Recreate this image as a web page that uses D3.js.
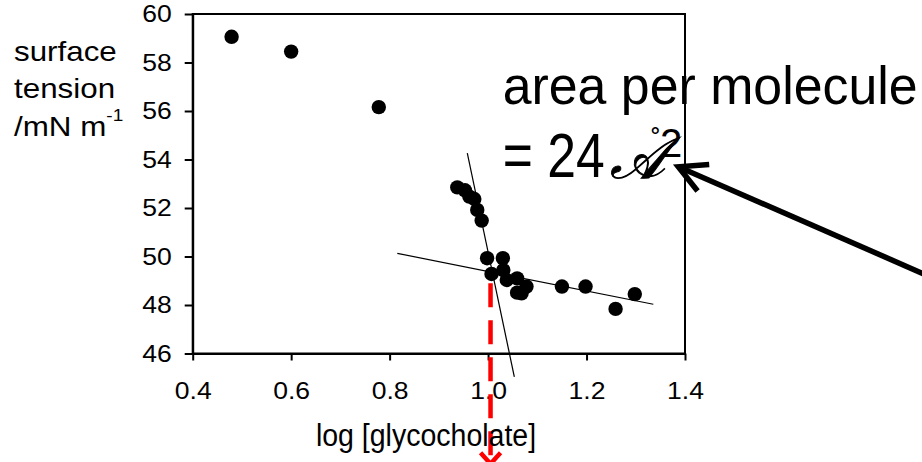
<!DOCTYPE html>
<html>
<head>
<meta charset="utf-8">
<script src="https://cdn.jsdelivr.net/npm/d3@7"></script>
<style>
  html, body { margin: 0; padding: 0; background: #fff; }
  svg { display: block; }
  text { font-family: "Liberation Sans", Arial, sans-serif; fill: #000; }
</style>
</head>
<body>
<svg id="chart" width="922" height="462"></svg>
<script>
// Surface tension of glycocholate solutions vs. log concentration
const logConc = [0.479, 0.600, 0.778, 0.9375, 0.953, 0.962, 0.972, 0.978, 0.987,
                 0.998, 1.030, 1.007, 1.031, 1.038, 1.059, 1.078, 1.059, 1.068,
                 1.150, 1.198, 1.259, 1.298];
const tension = [59.06, 58.45, 56.16, 52.85, 52.73, 52.47, 52.37, 51.92, 51.48,
                 49.93, 49.93, 49.28, 49.44, 49.03, 49.10, 48.76, 48.51, 48.48,
                 48.76, 48.76, 47.84, 48.45];

// Hand-drawn trend lines (endpoints in data units)
const steepLine = [[0.9578, 54.26], [1.0533, 45.04]];
const flatLine  = [[0.8156, 50.13], [1.3356, 48.03]];

// Break point (CMC) marker
const cmcLog = 1.005;
const cmcTop = 48.9;
const cmcBottom = 41.45;

const xTickValues = [0.4, 0.6, 0.8, 1.0, 1.2, 1.4];
const yTickValues = [46, 48, 50, 52, 54, 56, 58, 60];

const xTitle = "log [glycocholate]";
const yTitleLines = ["surface", "tension", "/mN m"];
const areaLine1 = "area per molecule";
const areaLine2 = "= 24 ";
const areaUnit = "\u{1D49C}";

const svg = d3.select("#chart");
svg.append("rect").attr("width", 922).attr("height", 462).attr("fill", "#fff");

const x = d3.scaleLinear().domain([0.4, 1.4]).range([192.7, 685]);
const y = d3.scaleLinear().domain([46, 60]).range([353.5, 14]);

// horizontally stretch a text element about its own x anchor
function stretch(sel, s) {
  sel.each(function () {
    const t = d3.select(this);
    const tx = +t.attr("x") || 0;
    t.attr("x", 0).attr("transform", `translate(${tx},0) scale(${s},1)`);
  });
}

// plot frame
svg.append("rect")
  .attr("x", x(0.4)).attr("y", y(60))
  .attr("width", x(1.4) - x(0.4)).attr("height", y(46) - y(60))
  .attr("fill", "none").attr("stroke", "#000").attr("stroke-width", 2);

// axes
const yAxis = svg.append("g").attr("transform", `translate(${x(0.4)},0)`)
  .call(d3.axisLeft(y).tickValues(yTickValues).tickSize(8).tickSizeOuter(0)
    .tickPadding(13).tickFormat(d3.format("d")));
const xAxis = svg.append("g").attr("transform", `translate(0,${y(46)})`)
  .call(d3.axisBottom(x).tickValues(xTickValues).tickSize(7).tickSizeOuter(0)
    .tickPadding(22).tickFormat(d3.format(".1f")));
[yAxis, xAxis].forEach(a => {
  a.select(".domain").attr("stroke-width", 2);
  a.selectAll(".tick line").attr("stroke-width", 2);
  a.selectAll(".tick text")
    .attr("font-family", "\"Liberation Sans\", Arial, sans-serif")
    .attr("font-size", 23.5).attr("fill", "#000");
});
stretch(yAxis.selectAll(".tick text"), 1.13);
xAxis.selectAll(".tick text").attr("x", 0);
stretch(xAxis.selectAll(".tick text"), 1.13);

// trend lines
const line = d3.line().x(d => x(d[0])).y(d => y(d[1]));
[steepLine, flatLine].forEach(l => {
  svg.append("path").attr("d", line(l))
    .attr("fill", "none").attr("stroke", "#000").attr("stroke-width", 1.2);
});

// data points
svg.append("g").selectAll("circle")
  .data(logConc.map((v, i) => [v, tension[i]]))
  .join("circle")
  .attr("cx", d => x(d[0])).attr("cy", d => y(d[1])).attr("r", 7.2)
  .attr("fill", "#000");

// red dashed drop line at the break point
svg.append("line")
  .attr("x1", x(cmcLog)).attr("x2", x(cmcLog))
  .attr("y1", y(cmcTop)).attr("y2", y(cmcBottom))
  .attr("stroke", "#f00").attr("stroke-width", 4.5)
  .attr("stroke-dasharray", "24 13");
svg.append("path")
  .attr("d", `M${x(cmcLog) - 10},${y(cmcBottom) - 11} L${x(cmcLog)},${y(cmcBottom)} L${x(cmcLog) + 10},${y(cmcBottom) - 11}`)
  .attr("fill", "none").attr("stroke", "#f00").attr("stroke-width", 4.5);

// axis titles
const xt = svg.append("text").attr("x", 426).attr("y", 446).attr("text-anchor", "middle")
  .attr("font-size", 31).text(xTitle);
stretch(xt, 0.92);

const yt = svg.append("g");
yTitleLines.forEach((s, i) => {
  const t = yt.append("text").attr("x", 14).attr("y", 61 + i * 37.5)
    .attr("font-size", 28).text(s);
  if (i === 2) t.append("tspan").attr("dy", -15).attr("font-size", 17).text("-1");
});
stretch(yt.selectAll("text"), 1.12);

// annotation: area per molecule
const a1 = svg.append("text").attr("x", 502.7).attr("y", 104)
  .attr("font-size", 54).text(areaLine1);
stretch(a1, 0.96);
const a2 = svg.append("text").attr("x", 502.7).attr("y", 177)
  .attr("font-size", 63).text(areaLine2);
stretch(a2, 0.82);
// script angstrom with its ring and the squared exponent, as one text
const unit = svg.append("text").attr("x", 610).attr("y", 178);
unit.append("tspan")
  .attr("font-size", 58).attr("font-style", "italic")
  .attr("stroke", "#000").attr("stroke-width", 1)
  .attr("font-family", "\"DejaVu Serif\", serif").text(areaUnit);
unit.append("tspan").attr("x", 651).attr("y", 151)
  .attr("font-size", 30).text("\u02DA");
unit.append("tspan").attr("x", 660).attr("y", 157)
  .attr("font-size", 40).text("2");

// black pointer arrow
const tip = [x(1.3864), y(53.70)];
const tail = [x(1.918), y(48.99)];
const ang = Math.atan2(tail[1] - tip[1], tail[0] - tip[0]);
const armLen = 31, armAng = 28 * Math.PI / 180;
svg.append("line")
  .attr("x1", tail[0]).attr("y1", tail[1]).attr("x2", tip[0] + 3 * Math.cos(ang)).attr("y2", tip[1] + 3 * Math.sin(ang))
  .attr("stroke", "#000").attr("stroke-width", 5.5);
svg.append("path")
  .attr("d", `M${tip[0] + armLen * Math.cos(ang - armAng)},${tip[1] + armLen * Math.sin(ang - armAng)}` +
             ` L${tip[0]},${tip[1]}` +
             ` L${tip[0] + armLen * Math.cos(ang + armAng)},${tip[1] + armLen * Math.sin(ang + armAng)}`)
  .attr("fill", "none").attr("stroke", "#000").attr("stroke-width", 5.5)
  .attr("stroke-linejoin", "miter");
</script>
</body>
</html>
